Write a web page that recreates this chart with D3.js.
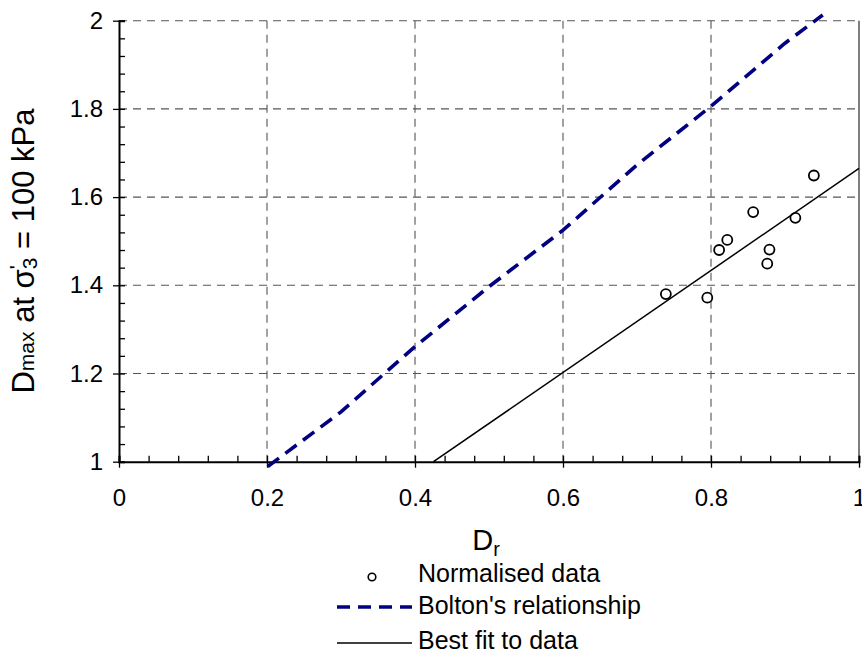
<!DOCTYPE html>
<html>
<head>
<meta charset="utf-8">
<script src="https://cdn.jsdelivr.net/npm/d3@7"></script>
<style>
  body { margin: 0; background: #fff; }
  svg { font-family: "Liberation Sans", Arial, sans-serif; }
</style>
</head>
<body>
<div id="chart"></div>
<script>
// Normalised data points (Dr, Dmax)
const dataDr = [0.739, 0.795, 0.811, 0.822, 0.857, 0.876, 0.879, 0.914, 0.939];
const dataDmax = [1.380, 1.372, 1.480, 1.503, 1.566, 1.449, 1.481, 1.553, 1.649];

// Bolton's relationship
const boltonDr = [0.201, 0.3, 0.4, 0.5, 0.6, 0.7, 0.8, 0.9, 0.951];
const boltonDmax = [0.989, 1.113, 1.261, 1.397, 1.525, 1.673, 1.806, 1.949, 2.013];

// Best fit to data
const fitDr = [0.425, 1.0];
const fitDmax = [1.0, 1.665];

const xMajor = [0, 0.2, 0.4, 0.6, 0.8, 1];
const yMajor = [1, 1.2, 1.4, 1.6, 1.8, 2];
const xMinor = d3.range(0, 1.0001, 0.04);
const yMinor = d3.range(1, 2.0001, 0.04);

const width = 862, height = 655;
const margin = { top: 20.7, right: 3, bottom: 193.3, left: 119 };
const innerW = width - margin.left - margin.right;
const innerH = height - margin.top - margin.bottom;

const svg = d3.select("#chart").append("svg")
  .attr("width", width)
  .attr("height", height);

const g = svg.append("g")
  .attr("transform", `translate(${margin.left},${margin.top})`);

const x = d3.scaleLinear().domain([0, 1]).range([0, innerW]);
const y = d3.scaleLinear().domain([1, 2]).range([innerH, 0]);

// grid
g.selectAll(".hgrid")
  .data(yMajor.slice(1))
  .enter().append("line")
  .attr("x1", 0).attr("x2", innerW)
  .attr("y1", d => y(d)).attr("y2", d => y(d))
  .attr("stroke", "#555").attr("stroke-width", 1.1)
  .attr("stroke-dasharray", "8,6");

g.selectAll(".vgrid")
  .data(xMajor.slice(1, -1))
  .enter().append("line")
  .attr("x1", d => x(d)).attr("x2", d => x(d))
  .attr("y1", 0).attr("y2", innerH)
  .attr("stroke", "#555").attr("stroke-width", 1.1)
  .attr("stroke-dasharray", "8,6");

// right border
g.append("line")
  .attr("x1", x(1)).attr("x2", x(1))
  .attr("y1", 0).attr("y2", innerH)
  .attr("stroke", "#555").attr("stroke-width", 1.5);

// x axis: major ticks outside, all ticks inside
const xAxisOut = d3.axisBottom(x).tickValues(xMajor).tickSize(6).tickPadding(21)
  .tickFormat(d => d === 0 || d === 1 ? d3.format("d")(d) : d3.format(".1f")(d));
const gx = g.append("g").attr("transform", `translate(0,${innerH})`).call(xAxisOut);
gx.selectAll("text").style("font-size", "24px").attr("fill", "#000");
gx.select(".domain").remove();

g.append("g").attr("transform", `translate(0,${innerH})`)
  .call(d3.axisTop(x).tickValues(xMinor).tickSize(6).tickFormat(""))
  .call(s => s.select(".domain").attr("stroke-width", 2));

const yAxisOut = d3.axisLeft(y).tickValues(yMajor).tickSize(6).tickPadding(10)
  .tickFormat(d => d === 1 || d === 2 ? d3.format("d")(d) : d3.format(".1f")(d));
const gy = g.append("g").call(yAxisOut);
gy.selectAll("text").style("font-size", "24px").attr("fill", "#000");
gy.select(".domain").remove();

g.append("g")
  .call(d3.axisRight(y).tickValues(yMinor).tickSize(6).tickFormat(""))
  .call(s => s.select(".domain").attr("stroke-width", 2));

g.selectAll(".tick line").attr("stroke-width", 1.3);

// lines
const line = d3.line().x(d => x(d[0])).y(d => y(d[1]));

g.append("path")
  .datum(boltonDr.map((d, i) => [d, boltonDmax[i]]))
  .attr("d", line)
  .attr("fill", "none")
  .attr("stroke", "#000080")
  .attr("stroke-width", 3.6)
  .attr("stroke-dasharray", "14,8");

g.append("path")
  .datum(fitDr.map((d, i) => [d, fitDmax[i]]))
  .attr("d", line)
  .attr("fill", "none")
  .attr("stroke", "#000")
  .attr("stroke-width", 1.5);

// points
g.selectAll(".pt")
  .data(dataDr.map((d, i) => [d, dataDmax[i]]))
  .enter().append("circle")
  .attr("cx", d => x(d[0]))
  .attr("cy", d => y(d[1]))
  .attr("r", 5)
  .attr("fill", "none")
  .attr("stroke", "#000")
  .attr("stroke-width", 1.8);

// axis titles
const xt = svg.append("text")
  .attr("x", 486).attr("y", 550)
  .attr("text-anchor", "middle")
  .style("font-size", "29px");
xt.append("tspan").text("D");
xt.append("tspan").attr("dy", 6).style("font-size", "20px").text("r");

const yt = svg.append("text")
  .attr("transform", "translate(34,251) rotate(-90)")
  .attr("text-anchor", "middle")
  .style("font-size", "31px");
yt.append("tspan").text("D");
yt.append("tspan").style("font-size", "21px").text("max");
yt.append("tspan").text(" at σ");
yt.append("tspan").attr("dy", -10).style("font-size", "21px").text("'");
yt.append("tspan").attr("dx", -4).attr("dy", 13).style("font-size", "21px").text("3");
yt.append("tspan").attr("dy", -3).text(" = 100 kPa");

// legend
const legend = svg.append("g").style("font-size", "25px");
legend.append("circle")
  .attr("cx", 372).attr("cy", 577).attr("r", 3.8)
  .attr("fill", "none").attr("stroke", "#000").attr("stroke-width", 1.6);
legend.append("text").attr("x", 418).attr("y", 582).text("Normalised data");

legend.append("line")
  .attr("x1", 337).attr("x2", 412).attr("y1", 607).attr("y2", 607)
  .attr("stroke", "#000080").attr("stroke-width", 3.6)
  .attr("stroke-dasharray", "13,8");
legend.append("text").attr("x", 418).attr("y", 613.5).text("Bolton's relationship");

legend.append("line")
  .attr("x1", 337).attr("x2", 412).attr("y1", 643).attr("y2", 643)
  .attr("stroke", "#000").attr("stroke-width", 1.5);
legend.append("text").attr("x", 418).attr("y", 648.5).text("Best fit to data");
</script>
</body>
</html>
